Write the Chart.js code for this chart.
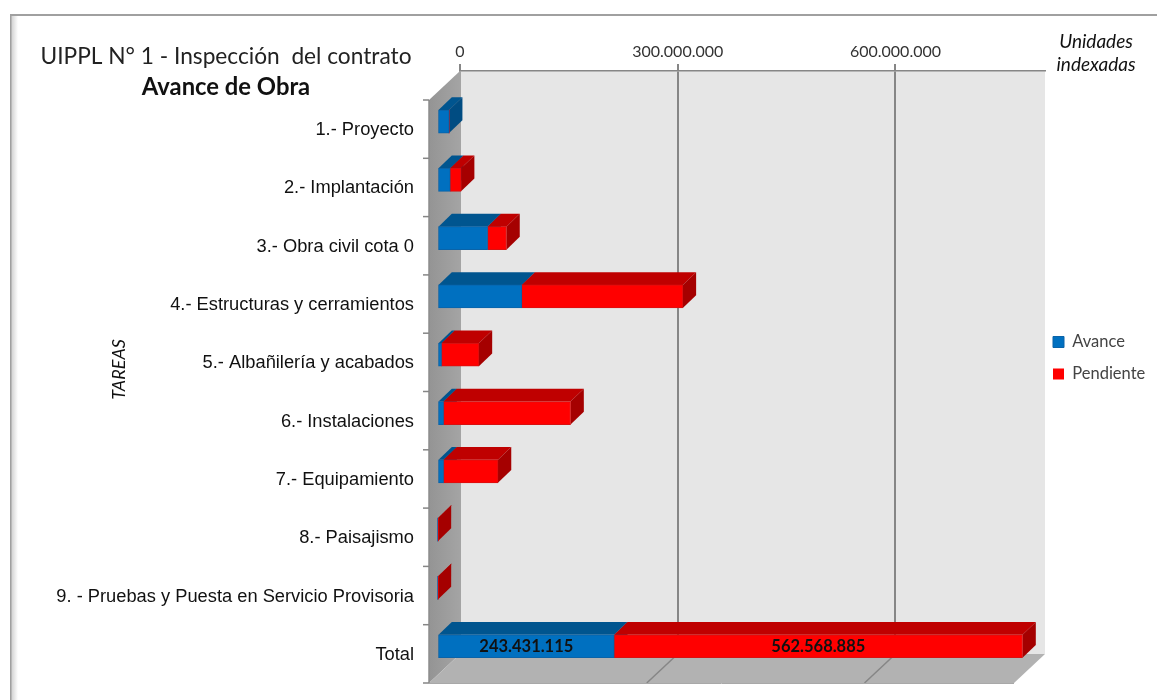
<!DOCTYPE html>
<html>
<head>
<meta charset="utf-8">
<style>html,body{margin:0;padding:0;background:#fff}canvas{display:block}</style>
<script src="https://cdn.jsdelivr.net/npm/chart.js@4"></script>
</head>
<body>
<canvas id="c" width="1157" height="700"></canvas>
<script>
const categories = ["1.- Proyecto","2.- Implantación","3.- Obra civil cota 0","4.- Estructuras y cerramientos","5.- Albañilería y acabados","6.- Instalaciones","7.- Equipamiento","8.- Paisajismo","9. - Pruebas y Puesta en Servicio Provisoria","Total"];
const avance = [16000000,17500000,69000000,116000000,5500000,8300000,8300000,0,0,243431115];
const pendiente = [0,15000000,26000000,222000000,51500000,175000000,75000000,500000,500000,562568885];
const maxUnits = 806000000;
const xTicks = [0,300000000,600000000];
const fmt = v => String(Math.round(v)).replace(/\B(?=(\d{3})+(?!\d))/g,'.');

const WALL = {dx:31, dy:29};
const BAR  = {shiftX:-22.5, shiftY:21.4, dx:13.3, dy:12.8};
const faces = [
  {top:'#00558f', side:'#004c82'},
  {top:'#bf0000', side:'#a50000'}
];

function poly(ctx, pts, fill){
  ctx.beginPath();
  pts.forEach((p,i)=> i?ctx.lineTo(p[0],p[1]):ctx.moveTo(p[0],p[1]));
  ctx.closePath();
  ctx.fillStyle = fill;
  ctx.fill();
}

const box3d = {
  id:'box3d',
  afterLayout(chart){
    chart.boxes.forEach(b=>{
      if (b === chart.legend){
        b.left = 1037.5; b.right = 1157;
        b.top += 31; b.bottom += 31;
      }
    });
    const titles = chart.boxes.filter(b=>b.options && b.position==='top' && !b.axis);
    titles.forEach(t=>{
      const isSub = t.options.text === 'Avance de Obra';
      t.left = 40; t.right = 412; t.width = 372;
      const h = t.height;
      t.top = (isSub ? 87 : 57) - h/2; t.bottom = t.top + h;
    });
    const sy = chart.scales.y, sx = chart.scales.x;
    if (!sy._wrapped){
      sy._wrapped = true;
      const oy = sy.drawTitle;
      sy.drawTitle = function(){ const c=this.ctx; c.save(); c.translate(0,7); oy.call(this); c.restore(); };
      const ox = sx.drawTitle;
      sx.drawTitle = function(){ const c=this.ctx; c.save(); c.translate(343.5,21.2); ox.call(this); c.restore(); };
    }
  },
  beforeDraw(chart){
    const {ctx, chartArea:a, scales:{x,y}} = chart;
    ctx.save();
    ctx.fillStyle='#fff'; ctx.fillRect(0,0,chart.width,chart.height);
    let g = ctx.createLinearGradient(10,0,18,0);
    g.addColorStop(0,'#c8c8c8'); g.addColorStop(1,'#ffffff');
    ctx.fillStyle=g; ctx.fillRect(10,15,8,685);
    ctx.fillStyle='#a0a0a0'; ctx.fillRect(10,14,1147,2); ctx.fillRect(10,14,1.5,686);
    poly(ctx,[[a.left,a.top],[a.right,a.top],[a.right,a.bottom],[a.left,a.bottom]],'#e6e6e6');
    g = ctx.createLinearGradient(a.left-WALL.dx,0,a.left,0);
    g.addColorStop(0,'#949494'); g.addColorStop(1,'#a4a4a4');
    poly(ctx,[[a.left,a.top],[a.left-WALL.dx,a.top+WALL.dy],[a.left-WALL.dx,a.bottom+WALL.dy],[a.left,a.bottom]],g);
    poly(ctx,[[a.left,a.bottom],[a.right,a.bottom],[a.right-WALL.dx,a.bottom+WALL.dy],[a.left-WALL.dx,a.bottom+WALL.dy]],'#b2b2b2');
    ctx.strokeStyle='#868686'; ctx.lineWidth=1.5;
    x.ticks.forEach(t=>{
      if(t.value===0) return;
      const px = x.getPixelForValue(t.value);
      ctx.beginPath(); ctx.moveTo(px,a.bottom); ctx.lineTo(px-WALL.dx,a.bottom+WALL.dy); ctx.stroke();
    });
    ctx.strokeStyle='#8c8c8c'; ctx.lineWidth=1.5;
    ctx.beginPath(); ctx.moveTo(a.left-WALL.dx,a.top+WALL.dy); ctx.lineTo(a.left-WALL.dx,a.bottom+WALL.dy); ctx.stroke();
    ctx.strokeStyle='#a8a8a8'; ctx.lineWidth=1;
    ctx.beginPath(); ctx.moveTo(a.left-WALL.dx,a.bottom+WALL.dy+.5); ctx.lineTo(a.right-WALL.dx,a.bottom+WALL.dy+.5); ctx.stroke();
    ctx.strokeStyle='#868686'; ctx.lineWidth=1.5;
    const band = (a.bottom-a.top)/categories.length;
    for(let i=0;i<=categories.length;i++){
      const py = (i<categories.length ? y.getPixelForValue(i)-band/2 : y.getPixelForValue(i-1)+band/2) + WALL.dy;
      ctx.beginPath(); ctx.moveTo(a.left-WALL.dx-6,py); ctx.lineTo(a.left-WALL.dx,py); ctx.stroke();
    }
    ctx.restore();
  },
  beforeDatasetsDraw(chart){
    const ctx = chart.ctx;
    ctx.save();
    ctx.translate(BAR.shiftX,BAR.shiftY);
    chart.data.datasets.forEach((ds,di)=>{
      const meta = chart.getDatasetMeta(di);
      meta.data.forEach((el,i)=>{
        if(!ds.data[i]) return;
        const {x,y,base,height} = el.getProps(['x','y','base','height'],true);
        const t = y-height/2, b = y+height/2;
        poly(ctx,[[base,t],[x,t],[x+BAR.dx,t-BAR.dy],[base+BAR.dx,t-BAR.dy]],faces[di].top);
        poly(ctx,[[x,t],[x+BAR.dx,t-BAR.dy],[x+BAR.dx,b-BAR.dy],[x,b]],faces[di].side);
      });
    });
  },
  afterDatasetsDraw(chart){
    const ctx = chart.ctx;
    ctx.textAlign='center'; ctx.textBaseline='middle';
    ctx.font='bold 16.5px Lato'; ctx.fillStyle='#111';
    chart.data.datasets.forEach((ds,di)=>{
      const i = categories.length-1;
      const el = chart.getDatasetMeta(di).data[i];
      const {x,y,base} = el.getProps(['x','y','base'],true);
      ctx.fillText(fmt(ds.data[i]),(x+base)/2,y+0.5);
    });
    ctx.restore();
  }
};

new Chart(document.getElementById('c'),{
  type:'bar',
  plugins:[box3d,{
    id:'legendWidth',
    beforeLayout(chart){
      const l = chart.legend;
      if(l && !l._w){ l._w=true; const f=l.fit; l.fit=function(){f.call(this); this.width=112;}; }
    }
  }],
  data:{
    labels:categories,
    datasets:[
      {label:'Avance',data:avance,backgroundColor:'#0070c0',borderColor:'#0a63a8',borderWidth:c=>c.raw?1:0,borderSkipped:false,barThickness:23,clip:false},
      {label:'Pendiente',data:pendiente,backgroundColor:'#ff0000',borderColor:'#d91010',borderWidth:c=>c.raw?1:0,borderSkipped:false,barThickness:23,clip:false}
    ]
  },
  options:{
    indexAxis:'y',
    responsive:false,
    animation:false,
    devicePixelRatio:1,
    layout:{padding:{left:0,top:0,right:0,bottom:46}},
    plugins:{
      tooltip:{enabled:false},
      title:{display:true,text:'UIPPL N° 1 - Inspección  del contrato',color:'#222',padding:0,font:{family:'Lato',size:22.7,weight:'normal',lineHeight:0.2}},
      subtitle:{display:true,text:'Avance de Obra',color:'#111',padding:0,font:{family:'Lato',size:23.8,weight:'bold',lineHeight:0.2}},
      legend:{display:true,position:'right',labels:{color:'#444',boxWidth:11,boxHeight:11,padding:15.5,font:{family:'Lato',size:16.5}}}
    },
    scales:{
      x:{
        type:'linear',position:'top',stacked:true,min:0,max:maxUnits,
        afterFit(s){ s.height = 71-9.3; },
        afterBuildTicks(s){ s.ticks = xTicks.map(value=>({value})); },
        grid:{color:c=>c.tick && c.tick.value===0 ? '#a4a4a4' : '#868686',tickColor:'#868686',lineWidth:2,tickLength:7},
        border:{color:'#868686',width:1.5},
        ticks:{maxRotation:0,padding:3,color:'#333',font:{family:'Lato',size:16},callback:v=>fmt(v)},
        title:{display:true,text:['Unidades','indexadas'],color:'#111',padding:0,font:{family:'Lato',size:19,style:'italic',lineHeight:1.2}}
      },
      y:{
        type:'category',stacked:true,
        afterFit(s){ s.width = 460; s.paddingTop = 0; s.paddingBottom = 0; },
        grid:{display:false},
        border:{display:false},
        ticks:{autoSkip:false,padding:38,labelOffset:30,color:'#111',font:{family:'Liberation Sans',size:18.3}},
        title:{display:true,text:'TAREAS',color:'#111',padding:{top:108,bottom:0},font:{family:'Lato',size:18,style:'italic',lineHeight:1.2}}
      }
    }
  }
});
</script>
</body>
</html>
